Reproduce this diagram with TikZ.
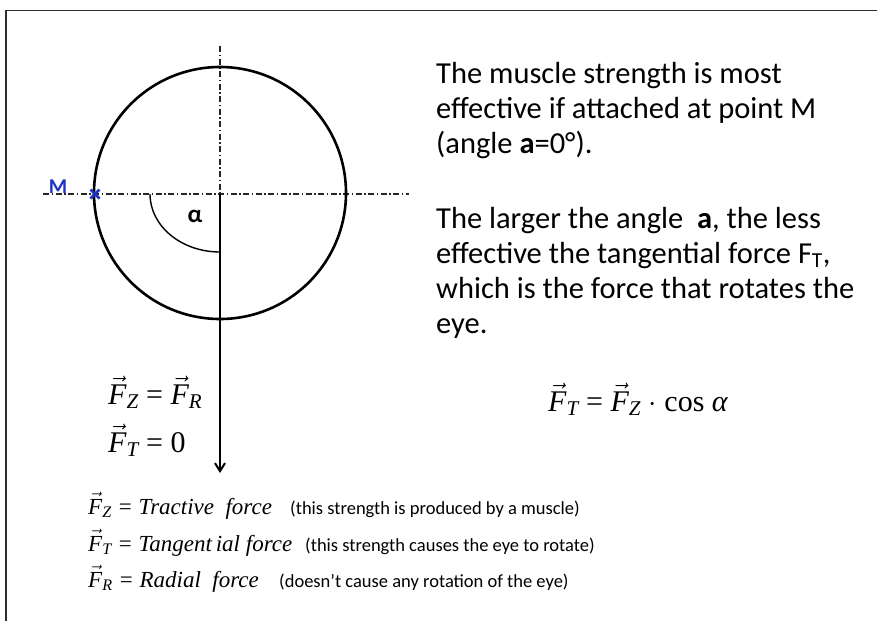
\RequirePackage{fix-cm}
\documentclass[tikz,border=0pt]{standalone}
\usepackage{amsmath}
\usepackage[no-math]{fontspec}
\setmainfont{Carlito}
\newfontfamily\tms{Liberation Serif}
\newcommand{\vF}[1]{$\vec{\text{\tms\itshape F}}_{\text{\tms\itshape #1}}$}
\usetikzlibrary{arrows.meta}
\definecolor{mblue}{RGB}{30,50,195}
\definecolor{framegray}{RGB}{45,45,45}
\begin{document}
\begin{tikzpicture}[x=1pt,y=-1pt,
  axisline/.style={line width=1.2pt, black!85, dash pattern=on 6pt off 2.5pt on 1.5pt off 2.5pt},
  bodytext/.style={font=\fontsize{30.5}{35}\selectfont, anchor=base west, inner sep=0pt},
  eqtext/.style={font=\fontsize{30}{35}\selectfont\tms, anchor=base west, inner sep=0pt},
  legmath/.style={font=\fontsize{23}{26}\selectfont\tms\itshape, anchor=base west, inner sep=0pt},
  legnote/.style={font=\fontsize{18.5}{22}\selectfont, anchor=base west, inner sep=0pt}]
\useasboundingbox (0,0) rectangle (877,621);
\fill[white] (0,0) rectangle (877,621);
\draw[framegray, line width=1.8pt] (6,621) -- (6,10.5) -- (877,10.5);

% circle and axes
\coordinate (C) at (220,193);
\coordinate (H1) at (43,194);
\coordinate (H2) at (409,194);
\coordinate (V1) at (220,46);
\coordinate (O) at (220,194);
\coordinate (A0) at (150,194);
\coordinate (tip) at (220,473);
\draw[axisline] (H1) -- (H2);
\draw[axisline] (V1) -- (O);
\draw[line width=2.6pt] (C) circle[radius=126];
\draw[line width=2pt, -{Straight Barb[length=8pt,width=10pt]}] (O) -- (tip);
\draw[line width=1.4pt] (A0) arc[start angle=180, end angle=90, x radius=70, y radius=58];
\node[font=\fontsize{25}{26}\selectfont\bfseries, anchor=base, inner sep=0pt] (alpha) at (195,222) {α};

% point M
\coordinate (M) at (95,194);
\draw[mblue, line width=2.8pt] ([shift={(-4.5,-4.5)}]M) -- ([shift={(4.5,4.5)}]M);
\draw[mblue, line width=2.8pt] ([shift={(-4.5,4.5)}]M) -- ([shift={(4.5,-4.5)}]M);
\node[text=mblue, font=\fontsize{21}{22}\selectfont\bfseries, anchor=base, inner sep=0pt] (Mlabel) at (58,193) {M};

% right text
\node[bodytext] (p1a) at (436,83) {The muscle strength is most};
\node[bodytext] (p1b) at (436,118) {effective if attached at point M};
\node[bodytext] (p1c) at (436,153) {(angle \textbf{a}=0°).};
\node[bodytext] (p2a) at (436,228) {The larger the angle\ \ \textbf{a}, the less};
\node[bodytext] (p2b) at (436,263) {effective the tangential force F\textsubscript{T},};
\node[bodytext] (p2c) at (436,298) {which is the force that rotates the};
\node[bodytext] (p2d) at (436,333) {eye.};

% equations
\node[eqtext] (eq1) at (108,404) {\vF{Z} = \vF{R}};
\node[eqtext] (eq2) at (108,452) {\vF{T} = 0};
\node[eqtext] (eq3) at (548,411) {\vF{T} = \vF{Z} $\cdot$ cos \textit{α}};

% legend
\node[legmath] (l1) at (88,514) {\vF{Z} = Tractive\ \ force};
\node[legnote] (n1) at (290,514) {(this strength is produced by a muscle)};
\node[legmath] (l2) at (88,551) {\vF{T} = Tangent\,ial\ force};
\node[legnote] (n2) at (305,551) {(this strength causes the eye to rotate)};
\node[legmath] (l3) at (88,587) {\vF{R} = Radial\ \ force};
\node[legnote] (n3) at (279,587) {(doesn’t cause any rotation of the eye)};
\end{tikzpicture}
\end{document}
